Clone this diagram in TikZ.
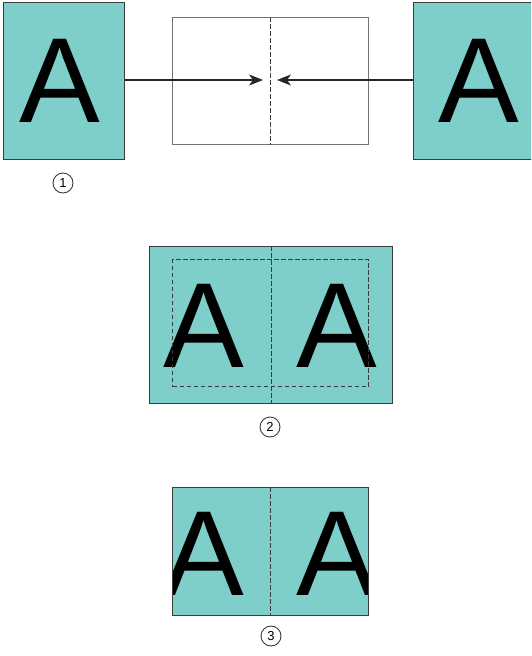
\documentclass[tikz,border=0pt]{standalone}
\usepackage{fontspec}
\setmainfont{Liberation Sans}
\usetikzlibrary{arrows.meta}
\definecolor{teal1}{RGB}{126,206,202}
\definecolor{edge}{RGB}{60,60,60}
\begin{document}
\begin{tikzpicture}[x=1pt,y=-1pt,
  pagebox/.style={draw=edge,fill=teal1,line width=1.4pt,inner sep=0,anchor=north west},
  bigA/.style={font=\fontsize{121}{121}\selectfont,inner sep=0,anchor=base},
  cut/.style={draw=edge,line width=1pt,dash pattern=on 4.5pt off 2.5pt},
  num/.style={circle,draw=edge,line width=0.9pt,minimum size=20pt,inner sep=0,font=\fontsize{13}{13}\selectfont},
  arr/.style={draw=black!85,line width=1.3pt,-{Stealth[length=14pt,width=11pt,inset=4pt]}}]
\useasboundingbox (0,0) rectangle (531,656);
\clip (0,0) rectangle (531,656);
% section 1
\node[pagebox,minimum width=121pt,minimum height=157pt] (p1) at (3,2) {};
\node[bigA] (a1) at (60,122) {A};
\node[pagebox,minimum width=121pt,minimum height=157pt] (p2) at (413,2) {};
\node[bigA] (a2) at (478.5,122) {A};
\node[draw=black!55,line width=1pt,minimum width=196pt,minimum height=127pt,inner sep=0,anchor=north west] (mid) at (172,17) {};
\draw[cut] (mid.north) -- (mid.south);
\coordinate (tl) at (263,80);
\coordinate (tr) at (277,80);
\draw[arr] (p1.east |- tl) -- (tl);
\draw[arr] (p2.west |- tr) -- (tr);
\node[num] (n1) at (63,183) {1};
% section 2
\node[pagebox,minimum width=243pt,minimum height=157pt] (s2) at (149,246) {};
\node[bigA] (b1) at (204,367) {A};
\node[bigA] (b2) at (337,367) {A};
\node[cut,minimum width=196pt,minimum height=127pt,inner sep=0,anchor=north west] (in2) at (172,259) {};
\draw[cut] (s2.north) -- (s2.south);
\node[num] (n2) at (270,427) {2};
% section 3
\begin{scope}
\clip (172,487) rectangle (368,615);
\fill[teal1] (172,487) rectangle (368,615);
\node[bigA] (c1) at (204,595) {A};
\node[bigA] (c2) at (337,595) {A};
\end{scope}
\node[draw=edge,line width=1.4pt,minimum width=196pt,minimum height=128pt,inner sep=0,anchor=north west] (s3) at (172,487) {};
\draw[cut] (s3.north) -- (s3.south);
\node[num] (n3) at (271,636) {3};
\end{tikzpicture}
\end{document}
